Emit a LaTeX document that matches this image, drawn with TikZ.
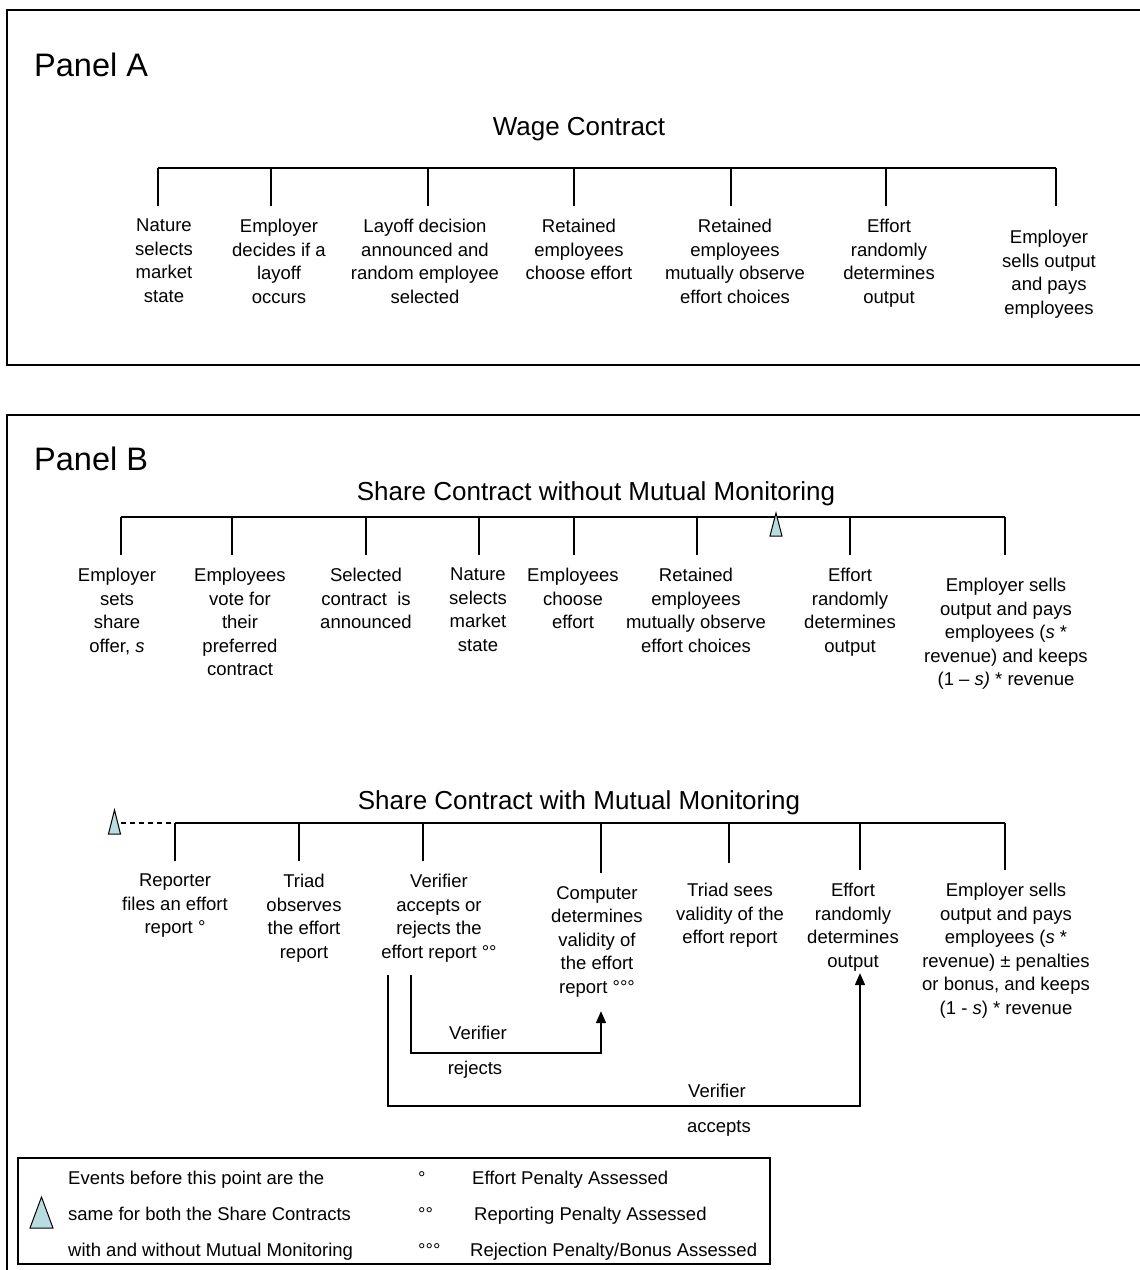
\documentclass[tikz,border=0pt]{standalone}
\usepackage{fontspec}
\setmainfont{Liberation Sans}
\usetikzlibrary{arrows.meta}
\begin{document}
\begin{tikzpicture}[x=1pt,y=-1pt,
    evt/.style={align=center,anchor=north,inner sep=0pt,font=\fontsize{18.5}{23.5}\selectfont},
    txt/.style={inner sep=0pt,font=\fontsize{18.5}{23.5}\selectfont},
    panel/.style={inner sep=0pt,anchor=base west,font=\fontsize{32.5}{36}\selectfont},
    heading/.style={inner sep=0pt,anchor=base,font=\fontsize{26}{29}\selectfont},
    timeline/.style={line width=1.8pt},
    stem/.style={line width=1.8pt},
    flow/.style={line width=1.8pt,-{Triangle[length=12pt,width=10pt]}}]
% \clip (0,0) rectangle (1140,1270);
\useasboundingbox (0,0) rectangle (1140,1270);
\clip (0,0) rectangle (1140,1270);

% Changing color 183 221 224
\definecolor{r183g221b224}{RGB}{183,221,224}%

% Drawing panel frames
\draw [line width=1.8pt] (7,10) rectangle (1160,365);%
\draw [line width=1.8pt] (7,415) rectangle (1160,1290);%

% ---------------- Panel A ----------------
\node [panel] (pA) at (34,76) {Panel A};%
\node [heading] (hWage) at (579,135) {Wage Contract};%

% Drawing segment wage line
\coordinate (tA1) at (158,168);
\coordinate (tA2) at (271,168);
\coordinate (tA3) at (428,168);
\coordinate (tA4) at (574,168);
\coordinate (tA5) at (731,168);
\coordinate (tA6) at (886,168);
\coordinate (tA7) at (1056,168);
\draw [timeline] (tA1) -- (tA7);%
\draw [stem] (tA1) -- ++(0,38);%
\draw [stem] (tA2) -- ++(0,38);%
\draw [stem] (tA3) -- ++(0,38);%
\draw [stem] (tA4) -- ++(0,38);%
\draw [stem] (tA5) -- ++(0,38);%
\draw [stem] (tA6) -- ++(0,38);%
\draw [stem] (tA7) -- ++(0,38);%

% Marking wage events
\node [evt] (eA1) at (164,219) {Nature\\selects\\market\\state};%
\node [evt] (eA2) at (279,219) {Employer\\decides if a\\layoff\\occurs};%
\node [evt] (eA3) at (425,219) {Layoff decision\\announced and\\random employee\\selected};%
\node [evt] (eA4) at (579,219) {Retained\\employees\\choose effort};%
\node [evt] (eA5) at (735,219) {Retained\\employees\\mutually observe\\effort choices};%
\node [evt] (eA6) at (889,219) {Effort\\randomly\\determines\\output};%
\node [evt] (eA7) at (1049,230) {Employer\\sells output\\and pays\\employees};%

% ---------------- Panel B ----------------
\node [panel] (pB) at (34,470) {Panel B};%
\node [heading] (hShare) at (596,500) {Share Contract without Mutual Monitoring};%

% Drawing segment share line
\coordinate (tS1) at (121,517);
\coordinate (tS2) at (232,517);
\coordinate (tS3) at (366,517);
\coordinate (tS4) at (479,517);
\coordinate (tS5) at (574,517);
\coordinate (tS6) at (697,517);
\coordinate (tS7) at (850,517);
\coordinate (tS8) at (1005,517);
\draw [timeline] (tS1) -- (tS8);%
\draw [stem] (tS1) -- ++(0,38);%
\draw [stem] (tS2) -- ++(0,38);%
\draw [stem] (tS3) -- ++(0,38);%
\draw [stem] (tS4) -- ++(0,38);%
\draw [stem] (tS5) -- ++(0,38);%
\draw [stem] (tS6) -- ++(0,38);%
\draw [stem] (tS7) -- ++(0,38);%
\draw [stem] (tS8) -- ++(0,38);%

% Filling marker triangle
\draw [line width=1pt,fill=r183g221b224] (770,536) -- (776,513) -- (782,536) -- cycle;%

% Marking share events
\node [evt] (eS1) at (117,568) {Employer\\sets\\share\\offer, \textit{s}};%
\node [evt] (eS2) at (240,568) {Employees\\vote for\\their\\preferred\\contract};%
\node [evt] (eS3) at (366,568) {Selected\\contract~ is\\announced};%
\node [evt] (eS4) at (478,568) {Nature\\selects\\market\\state};%
\node [evt] (eS5) at (573,568) {Employees\\choose\\effort};%
\node [evt] (eS6) at (696,568) {Retained\\employees\\mutually observe\\effort choices};%
\node [evt] (eS7) at (850,568) {Effort\\randomly\\determines\\output};%
\node [evt] (eS8) at (1006,578) {Employer sells\\output and pays\\employees (\textit{s} *\\revenue) and keeps\\(1 -- \textit{s)} * revenue};%

% ---------------- Share with monitoring ----------------
\node [heading] (hMon) at (579,809) {Share Contract with Mutual Monitoring};%

% Drawing segment monitoring line
\coordinate (tM0) at (121,823);
\coordinate (tM1) at (175,823);
\coordinate (tM2) at (299,823);
\coordinate (tM3) at (423,823);
\coordinate (tM4) at (601,823);
\coordinate (tM5) at (729,823);
\coordinate (tM6) at (860,823);
\coordinate (tM7) at (1005,823);
\draw [timeline] (tM1) -- (tM7);%
\draw [line width=1.8pt,dash pattern=on 5pt off 4pt] (tM0) -- (tM1);%
\draw [stem] (tM1) -- ++(0,38);%
\draw [stem] (tM2) -- ++(0,38);%
\draw [stem] (tM3) -- ++(0,38);%
\draw [stem] (tM4) -- ++(0,50);%
\draw [stem] (tM5) -- ++(0,40);%
\draw [stem] (tM6) -- ++(0,47);%
\draw [stem] (tM7) -- ++(0,47);%

% Filling marker triangle
\draw [line width=1pt,fill=r183g221b224] (108.5,834) -- (114.5,810) -- (120.5,834) -- cycle;%

% Marking monitoring events
\node [evt] (eM1) at (175,874) {Reporter\\files an effort\\report \textdegree};%
\node [evt] (eM2) at (304,874) {Triad\\observes\\the effort\\report};%
\node [evt] (eM3) at (439,874) {Verifier\\accepts or\\rejects the\\effort report \textdegree\textdegree};%
\node [evt] (eM4) at (597,886) {Computer\\determines\\validity of\\the effort\\report \textdegree\textdegree\textdegree};%
\node [evt] (eM5) at (730,883) {Triad sees\\validity of the\\effort report};%
\node [evt] (eM6) at (853,883) {Effort\\randomly\\determines\\output};%
\node [evt] (eM7) at (1006,883) {Employer sells\\output and pays\\employees (\textit{s} *\\revenue) \textpm\ penalties\\or bonus, and keeps\\(1 - \textit{s}) * revenue};%

% Drawing verifier branches
\coordinate (rejS) at (411,975);
\coordinate (rejB) at (411,1053);
\coordinate (accS) at (388,975);
\coordinate (accB) at (388,1106);
\draw [flow,shorten >=14pt] (rejS) -- (rejB) -| (tM4 |- eM4.south);%
\draw [flow,shorten >=2pt] (accS) -- (accB) -| (tM6 |- eM6.south);%
\node [txt] (rej1) at (478,1033) {Verifier};%
\node [txt] (rej2) at (475,1070) {rejects};%
\node [txt] (acc1) at (717,1091) {Verifier};%
\node [txt] (acc2) at (719,1128) {accepts};%

% ---------------- Legend ----------------
\draw [line width=1.8pt] (18,1158) rectangle (770,1264);%
\draw [line width=1pt,fill=r183g221b224] (30,1228) -- (41.5,1197) -- (53,1228) -- cycle;%
\node [txt,anchor=base west] (leg1) at (68,1184) {Events before this point are the};%
\node [txt,anchor=base west] (leg2) at (68,1220) {same for both the Share Contracts};%
\node [txt,anchor=base west] (leg3) at (68,1256) {with and without Mutual Monitoring};%
\node [txt,anchor=base west] (deg1) at (418,1184) {\textdegree};%
\node [txt,anchor=base west] (deg2) at (418,1220) {\textdegree\textdegree};%
\node [txt,anchor=base west] (deg3) at (418,1256) {\textdegree\textdegree\textdegree};%
\node [txt,anchor=base west] (pen1) at (472,1184) {Effort Penalty Assessed};%
\node [txt,anchor=base west] (pen2) at (474,1220) {Reporting Penalty Assessed};%
\node [txt,anchor=base west] (pen3) at (470,1256) {Rejection Penalty/Bonus Assessed};%
\end{tikzpicture}
\end{document}
